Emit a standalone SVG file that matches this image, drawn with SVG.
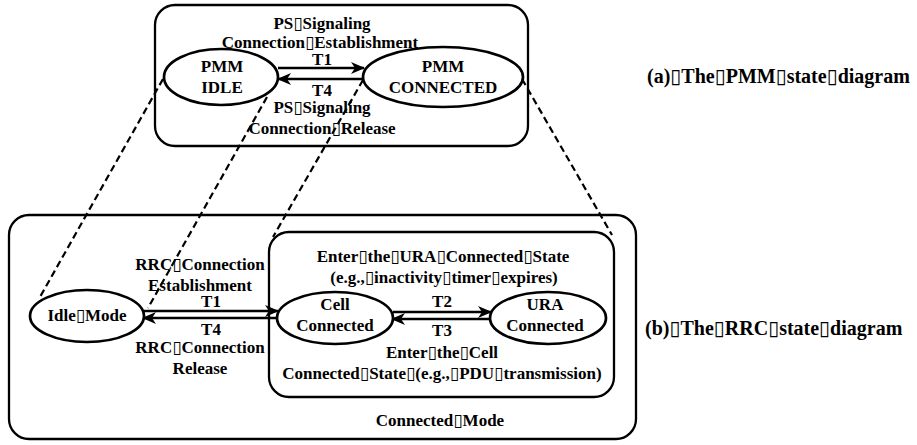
<svg xmlns="http://www.w3.org/2000/svg" width="917" height="445" viewBox="0 0 917 445">
  <style>
    .box { fill: none; stroke: #000; stroke-width: 2.3; }
    .state { fill: #fff; stroke: #000; stroke-width: 2.7; }
    .t { font-family: "Liberation Serif", "DejaVu Serif", "Times New Roman", serif; font-weight: bold; font-size: 17px; fill: #000; text-anchor: middle; }
    .cap { text-anchor: start; font-size: 20px; }
    .arrow { fill: none; stroke: #000; stroke-width: 2.7; marker-end: url(#ah); }
    .dash { fill: none; stroke: #000; stroke-width: 2.2; stroke-dasharray: 7 4; }
  </style>
  <defs>
    <marker id="ah" viewBox="0 0 14 12" refX="13" refY="6" markerWidth="14" markerHeight="12" markerUnits="userSpaceOnUse" orient="auto">
      <path d="M0,0 L14,6 L0,12 L4,6 z" fill="#000"/>
    </marker>
  </defs>

  <!-- PMM state machine frame -->
  <g id="pmm-frame">
    <rect class="box" x="155" y="5" width="373" height="141" rx="20"/>
    <text class="t cap" x="647" y="83">(a)▯The▯PMM▯state▯diagram</text>
  </g>

  <!-- RRC state machine frames -->
  <g id="rrc-frame">
    <rect class="box" x="9" y="215" width="627" height="224" rx="20"/>
    <text class="t cap" x="645" y="335">(b)▯The▯RRC▯state▯diagram</text>
  </g>
  <g id="connected-mode">
    <rect class="box" x="269" y="232" width="345" height="165" rx="20"/>
    <text class="t" x="440" y="426">Connected▯Mode</text>
  </g>

  <!-- connectors -->
  <g id="connectors">
    <!-- mapping between PMM and RRC states -->
    <line class="dash" x1="163" y1="79" x2="40" y2="297"/>
    <line class="dash" x1="267" y1="97" x2="148" y2="308"/>
    <line class="dash" x1="363" y1="80" x2="273" y2="237"/>
    <line class="dash" x1="522" y1="79" x2="612" y2="235"/>

    <!-- PMM transitions -->
    <line class="arrow" x1="278" y1="68" x2="364" y2="68"/>
    <line class="arrow" x1="364" y1="79" x2="278" y2="79"/>
    <text class="t" x="322" y="29">PS▯Signaling</text>
    <text class="t" x="320" y="48">Connection▯Establishment</text>
    <text class="t" x="322" y="65">T1</text>
    <text class="t" x="322" y="96">T4</text>
    <text class="t" x="322" y="113">PS▯Signaling</text>
    <text class="t" x="322" y="134">Connection▯Release</text>

    <!-- RRC transitions -->
    <line class="arrow" x1="144" y1="311" x2="278" y2="311"/>
    <line class="arrow" x1="277" y1="318" x2="143" y2="318"/>
    <text class="t" x="200" y="270">RRC▯Connection</text>
    <text class="t" x="200" y="291">Establishment</text>
    <text class="t" x="211" y="307">T1</text>
    <text class="t" x="211" y="335">T4</text>
    <text class="t" x="200" y="353">RRC▯Connection</text>
    <text class="t" x="200" y="374">Release</text>

    <line class="arrow" x1="393" y1="312" x2="491" y2="312"/>
    <line class="arrow" x1="490" y1="319" x2="392" y2="319"/>
    <text class="t" x="443" y="262">Enter▯the▯URA▯Connected▯State</text>
    <text class="t" x="444" y="283">(e.g.,▯inactivity▯timer▯expires)</text>
    <text class="t" x="442" y="307">T2</text>
    <text class="t" x="442" y="336">T3</text>
    <text class="t" x="442" y="358">Enter▯the▯Cell</text>
    <text class="t" x="442" y="379">Connected▯State▯(e.g.,▯PDU▯transmission)</text>
  </g>

  <!-- states -->
  <g id="pmm-idle">
    <ellipse class="state" cx="221" cy="77" rx="57" ry="28"/>
    <text class="t" x="222" y="72">PMM</text>
    <text class="t" x="222" y="93">IDLE</text>
  </g>
  <g id="pmm-connected">
    <ellipse class="state" cx="443" cy="77" rx="80" ry="30"/>
    <text class="t" x="443" y="72">PMM</text>
    <text class="t" x="443" y="93">CONNECTED</text>
  </g>
  <g id="idle-mode">
    <ellipse class="state" cx="87" cy="316" rx="57" ry="26"/>
    <text class="t" x="87" y="321">Idle▯Mode</text>
  </g>
  <g id="cell-connected">
    <ellipse class="state" cx="335" cy="318" rx="58" ry="26"/>
    <text class="t" x="335" y="310">Cell</text>
    <text class="t" x="335" y="331">Connected</text>
  </g>
  <g id="ura-connected">
    <ellipse class="state" cx="548" cy="318" rx="58" ry="26"/>
    <text class="t" x="545" y="310">URA</text>
    <text class="t" x="545" y="331">Connected</text>
  </g>
</svg>
